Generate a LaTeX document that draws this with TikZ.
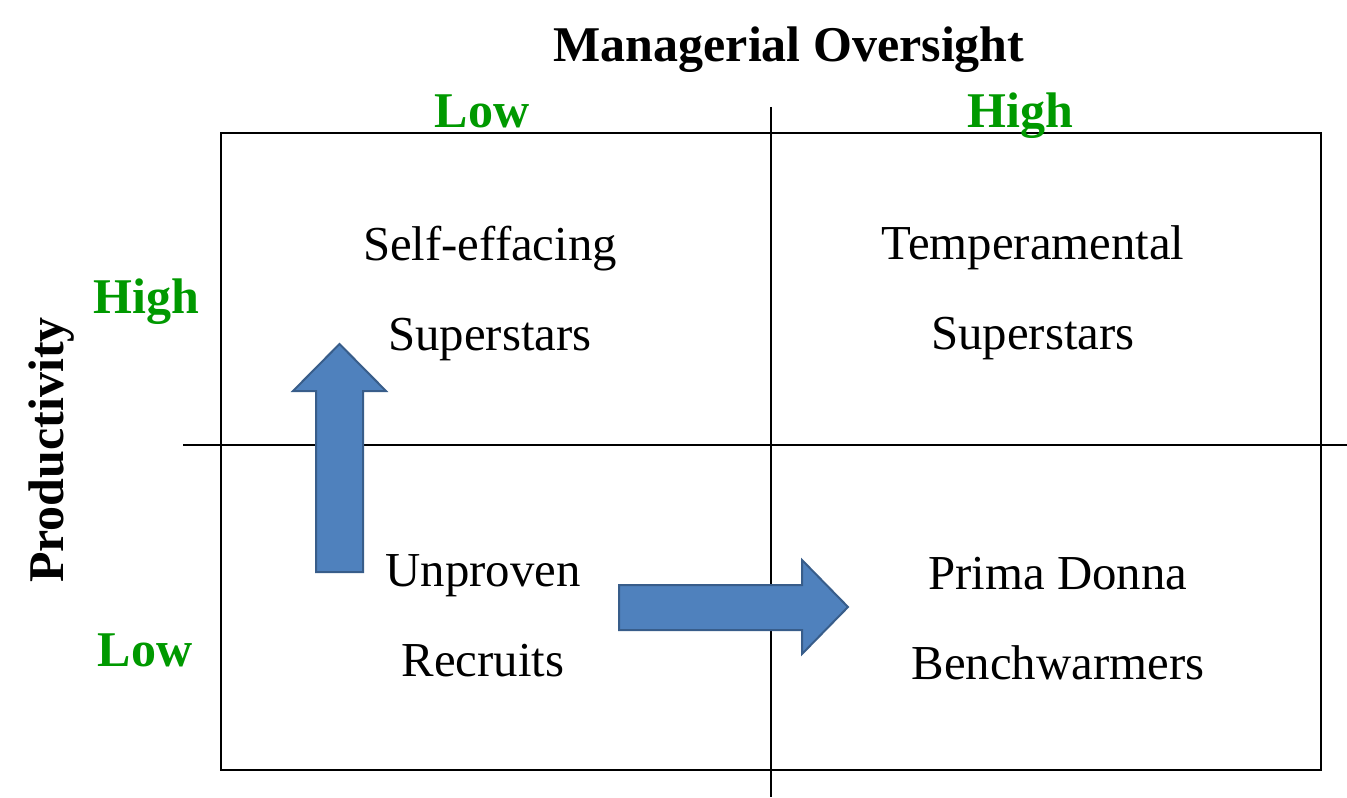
\documentclass[tikz,border=0pt]{standalone}
\usepackage{fontspec}
\setmainfont{Liberation Serif}
\usetikzlibrary{calc}
\definecolor{levelgreen}{RGB}{0,153,0}
\definecolor{arrowfill}{RGB}{79,129,189}
\definecolor{arrowline}{RGB}{56,93,138}
\tikzset{quad/.style = {font=\fontsize{24.4}{45}\selectfont, align=center}}
\tikzset{level/.style = {font=\fontsize{25}{30}\selectfont\bfseries, text=levelgreen}}
\tikzset{axis/.style = {font=\fontsize{25}{30}\selectfont\bfseries}}
\tikzset{blockarrow/.style = {fill=arrowfill, draw=arrowline, line width=1pt, line join=miter}}

\begin{document}
\begin{tikzpicture}[x=0.5pt,y=-0.5pt]
    \useasboundingbox (0,0) rectangle (1347,797);

    % Outer box and the two cross lines
    \draw [line width=1pt] (221,133) rectangle (1321,770);
    \coordinate (vtop) at (771,107);
    \coordinate (vbot) at (771,797);
    \coordinate (hleft) at (183,445);
    \coordinate (hright) at (1347,445);
    \draw [line width=1pt] (vtop) -- (vbot);
    \draw [line width=1pt] (hleft) -- (hright);

    % Axis titles
    \node [axis] (oversight) at (789,50) {Managerial Oversight};
    \node [axis, rotate=90] (productivity) at (52,450) {Productivity};

    % Levels
    \node [level, anchor=base] (lowtop) at (482,127) {Low};
    \node [level, anchor=base] (hightop) at (1020,127) {High};
    \node [level] (highleft) at (146,302) {High};
    \node [level] (lowleft) at (145,650) {Low};

    % Quadrants
    \node [quad] (selfeff) at (490,294) {Self-effacing\\Superstars};
    \node [quad] (temper) at (1033,293) {Temperamental\\Superstars};
    \node [quad] (unproven) at (483,616) {Unproven\\Recruits};
    \node [quad] (prima) at (1058,619) {Prima Donna\\Benchwarmers};

    % Block arrow up
    \draw [blockarrow] (316,572) -- (316,391) -- (293,391) -- (339.5,344)
        -- (386,391) -- (363,391) -- (363,572) -- cycle;

    % Block arrow right
    \draw [blockarrow] (619,585) -- (802,585) -- (802,560) -- (848,607)
        -- (802,654) -- (802,630) -- (619,630) -- cycle;
\end{tikzpicture}
\end{document}
